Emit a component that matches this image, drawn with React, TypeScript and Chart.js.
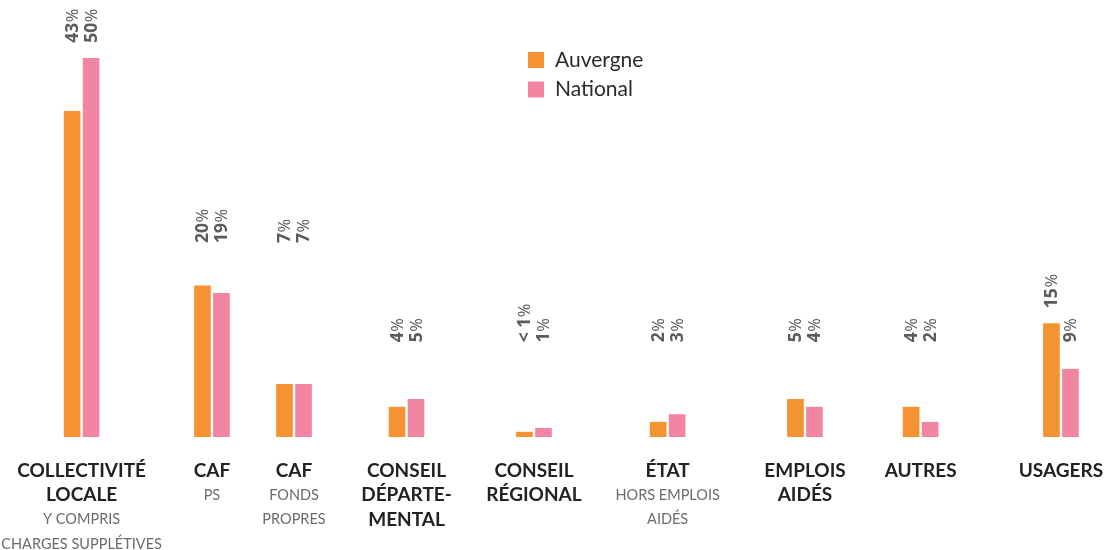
import { useEffect, useRef } from "react";
import { Chart, registerables } from "chart.js";

Chart.register(...registerables);

// ---- data ----
const categories = [
  "COLLECTIVITÉ LOCALE",
  "CAF PS",
  "CAF FONDS PROPRES",
  "CONSEIL DÉPARTEMENTAL",
  "CONSEIL RÉGIONAL",
  "ÉTAT",
  "EMPLOIS AIDÉS",
  "AUTRES",
  "USAGERS",
];
const titleLines = [
  ["COLLECTIVITÉ", "LOCALE"],
  ["CAF"],
  ["CAF"],
  ["CONSEIL", "DÉPARTE-", "MENTAL"],
  ["CONSEIL", "RÉGIONAL"],
  ["ÉTAT"],
  ["EMPLOIS", "AIDÉS"],
  ["AUTRES"],
  ["USAGERS"],
];
const subtitleLines = [
  ["Y COMPRIS", "CHARGES SUPPLÉTIVES"],
  ["PS"],
  ["FONDS", "PROPRES"],
  [],
  [],
  ["HORS EMPLOIS", "AIDÉS"],
  [],
  [],
  [],
];
const auvergne = [43, 20, 7, 4, 0.7, 2, 5, 4, 15];
const national = [50, 19, 7, 5, 1.2, 3, 4, 2, 9];
const auvergneLabels = ["43%", "20%", "7%", "4%", "< 1%", "2%", "5%", "4%", "15%"];
const nationalLabels = ["50%", "19%", "7%", "5%", "1%", "3%", "4%", "2%", "9%"];
// slot of each category along the (hidden) horizontal axis, 0..100
const categorySlots = [7.34, 19.06, 26.44, 36.56, 48.02, 60.04, 72.39, 82.79, 95.41];
// level (in % units) where each value label starts
const auvergneLabelLevel = [52, 25.6, 25.6, 12.5, 12.5, 12.5, 12.5, 12.5, 17];
const nationalLabelLevel = [52, 25.6, 25.6, 12.5, 12.5, 12.5, 12.5, 12.5, 12.5];
const seriesNames = ["Auvergne", "National"];
const seriesColors = ["#F59232", "#F285A1"];

const VALUE_FONT = "'Open Sans'";
const CAT_FONT = "Lato";

const annotate = {
  id: "annotate",
  afterDatasetsDraw(chart: any) {
    const ctx: CanvasRenderingContext2D = chart.ctx;
    const ys = chart.scales.y;
    const xs = chart.scales.x;

    // value labels (rotated)
    chart.data.datasets.forEach((_ds: any, di: number) => {
      const meta = chart.getDatasetMeta(di);
      const labels = di === 0 ? auvergneLabels : nationalLabels;
      const levels = di === 0 ? auvergneLabelLevel : nationalLabelLevel;
      meta.data.forEach((bar: any, i: number) => {
        const text = labels[i];
        const num = text.replace("%", "");
        ctx.save();
        ctx.translate(bar.x + 1, ys.getPixelForValue(levels[i]));
        ctx.rotate(-Math.PI / 2);
        ctx.fillStyle = "#5a5b5d";
        ctx.textBaseline = "middle";
        ctx.textAlign = "left";
        ctx.font = `bold 17.5px ${VALUE_FONT}`;
        ctx.fillText(num, 0, 0);
        const w = ctx.measureText(num).width;
        ctx.font = `16.5px ${VALUE_FONT}`;
        ctx.fillText("%", w + 0.5, 0);
        ctx.restore();
      });
    });

    // category labels
    const firstLine = 470.5;
    const pitch = 24.5;
    ctx.save();
    ctx.textAlign = "center";
    ctx.textBaseline = "middle";
    categories.forEach((_c, i) => {
      const cx = xs.getPixelForValue(categorySlots[i]);
      let line = 0;
      ctx.font = `bold 19px ${CAT_FONT}`;
      ctx.fillStyle = "#222222";
      titleLines[i].forEach((t) => {
        ctx.fillText(t, cx, firstLine + pitch * line);
        line++;
      });
      ctx.font = `14.5px ${CAT_FONT}`;
      ctx.fillStyle = "#6b6b6b";
      subtitleLines[i].forEach((t) => {
        ctx.fillText(t, cx, firstLine + pitch * line);
        line++;
      });
    });
    ctx.restore();

    // legend
    ctx.save();
    ctx.textAlign = "left";
    ctx.textBaseline = "middle";
    ctx.font = `21px ${CAT_FONT}`;
    chart.data.datasets.forEach((ds: any, di: number) => {
      const top = 52 + di * 29.5;
      ctx.fillStyle = ds.backgroundColor;
      ctx.fillRect(528, top, 16, 16);
      ctx.fillStyle = "#2b2b2b";
      ctx.fillText(ds.label, 555, top + 8);
    });
    ctx.restore();
  },
};

export default function App() {
  const ref = useRef<HTMLCanvasElement>(null);
  useEffect(() => {
    if (!ref.current) return;
    const mk = (vals: number[]) => vals.map((v, i) => ({ x: categorySlots[i], y: v }));
    const chart = new Chart(ref.current, {
      type: "bar",
      data: {
        datasets: [auvergne, national].map((vals, di) => ({
          label: seriesNames[di],
          data: mk(vals) as any,
          backgroundColor: seriesColors[di],
          borderColor: "#ffffff",
          borderWidth: { left: 1.5, right: 1.5, top: 0, bottom: 0 } as any,
          borderSkipped: false as any,
          barThickness: 19,
        })),
      },
      options: {
        animation: false,
        responsive: true,
        maintainAspectRatio: false,
        layout: { padding: { top: 0, bottom: 113, left: 0, right: 0 } },
        plugins: { legend: { display: false }, tooltip: { enabled: false } },
        scales: {
          x: { type: "linear", min: 0, max: 100, offset: false, display: false },
          y: { min: 0, max: 57.65, display: false },
        },
      },
      plugins: [annotate],
    });
    return () => chart.destroy();
  }, []);
  return (
    <div style={{ position: "absolute", left: 0, top: 0, width: 1112, height: 550, background: "#fff" }}>
      <canvas ref={ref} />
    </div>
  );
}
